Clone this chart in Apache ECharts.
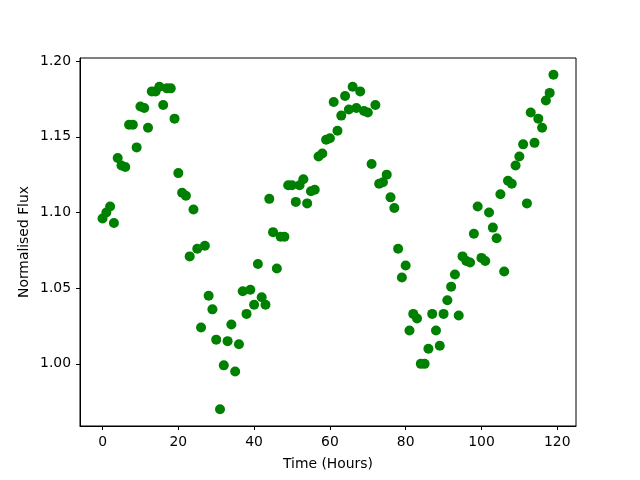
<!DOCTYPE html>
<html>
<head>
<meta charset="utf-8">
<script src="https://cdn.jsdelivr.net/npm/echarts@6/dist/echarts.min.js"></script>
<style>
  html, body { margin: 0; padding: 0; background: #fff; }
  #chart { width: 640px; height: 480px; }
</style>
</head>
<body>
<div id="chart"></div>
<script>
// hours since start (one reading per hour)
const hours = Array.from({ length: 120 }, (_, i) => i);

// normalised flux
const flux = [
  1.096, 1.100, 1.104, 1.093, 1.136, 1.131, 1.130, 1.158, 1.158, 1.143,
  1.170, 1.169, 1.156, 1.180, 1.180, 1.183, 1.171, 1.182, 1.182, 1.162,
  1.126, 1.113, 1.111, 1.071, 1.102, 1.076, 1.024, 1.078, 1.045, 1.036,
  1.016, 0.970, 0.999, 1.015, 1.026, 0.995, 1.013, 1.048, 1.033, 1.049,
  1.039, 1.066, 1.044, 1.039, 1.109, 1.087, 1.063, 1.084, 1.084, 1.118,
  1.118, 1.107, 1.118, 1.122, 1.106, 1.114, 1.115, 1.137, 1.139, 1.148,
  1.149, 1.173, 1.154, 1.164, 1.177, 1.168, 1.183, 1.169, 1.180, 1.167,
  1.166, 1.132, 1.171, 1.119, 1.120, 1.125, 1.110, 1.103, 1.076, 1.057,
  1.065, 1.022, 1.033, 1.030, 1.000, 1.000, 1.010, 1.033, 1.022, 1.012,
  1.033, 1.042, 1.051, 1.059, 1.032, 1.071, 1.068, 1.067, 1.086, 1.104,
  1.070, 1.068, 1.100, 1.090, 1.083, 1.112, 1.061, 1.121, 1.119, 1.131,
  1.137, 1.145, 1.106, 1.166, 1.146, 1.162, 1.156, 1.174, 1.179, 1.191
];

// tick positions
const xTicks = [0, 20, 40, 60, 80, 100, 120];
const yTicks = [1.00, 1.05, 1.10, 1.15, 1.20];

const points = hours.map((h, i) => [h, flux[i]]);

// matplotlib-style 5% margins
const xSpan = hours[hours.length - 1] - hours[0];
const fMin = Math.min(...flux), fMax = Math.max(...flux);
const ySpan = fMax - fMin;

const font = { fontFamily: 'DejaVu Sans', fontSize: 13.9, color: '#000' };

const chart = echarts.init(document.getElementById('chart'), null, { renderer: 'canvas' });

chart.setOption({
  animation: false,
  grid: {
    left: 80, right: 64, top: 58, bottom: 54,
    show: true, borderColor: '#000', borderWidth: 1, backgroundColor: '#fff'
  },
  xAxis: {
    type: 'value',
    min: hours[0] - xSpan * 0.05,
    max: hours[hours.length - 1] + xSpan * 0.05,
    name: 'Time (Hours)',
    nameLocation: 'middle',
    nameGap: 31,
    nameTextStyle: font,
    splitLine: { show: false },
    axisLine: { show: true, onZero: false, lineStyle: { color: '#000', width: 1 } },
    axisTick: { show: true, length: 4, customValues: xTicks, lineStyle: { color: '#000' } },
    axisLabel: { ...font, margin: 9, customValues: xTicks, formatter: v => String(v) }
  },
  yAxis: {
    type: 'value',
    min: fMin - ySpan * 0.05,
    max: fMax + ySpan * 0.05,
    name: 'Normalised Flux',
    nameLocation: 'middle',
    nameGap: 49,
    nameMoveOverlap: false,
    nameTextStyle: font,
    splitLine: { show: false },
    axisLine: { show: true, onZero: false, lineStyle: { color: '#000', width: 1 } },
    axisTick: { show: true, length: 4, customValues: yTicks, lineStyle: { color: '#000' } },
    axisLabel: { ...font, margin: 9, customValues: yTicks, formatter: v => v.toFixed(2) }
  },
  series: [
    {
      type: 'scatter',
      data: points,
      symbol: 'circle',
      symbolSize: 10,
      itemStyle: { color: '#008000', opacity: 1 }
    }
  ]
});
</script>
</body>
</html>
